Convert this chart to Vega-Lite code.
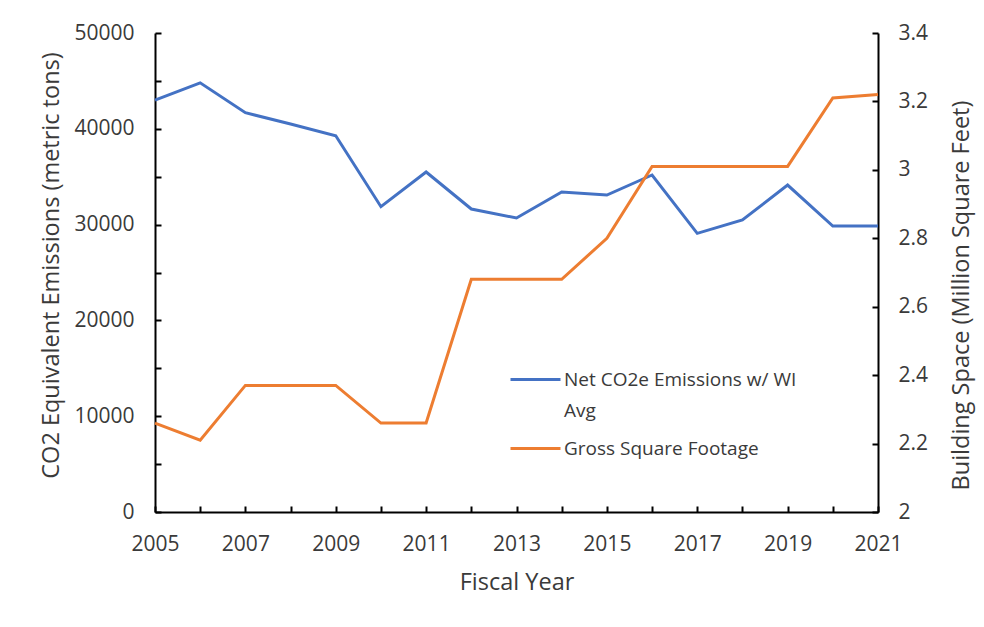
{
  "$schema": "https://vega.github.io/schema/vega-lite/v6.json",
  "width": 723,
  "height": 479,
  "autosize": "none",
  "padding": {"left": 155, "top": 33, "right": 106, "bottom": 115},
  "background": "white",
  "config": {
    "font": "Open Sans",
    "view": {"stroke": null},
    "axis": {
      "grid": false,
      "domainColor": "#000000",
      "domainWidth": 2,
      "tickColor": "#000000",
      "tickWidth": 2,
      "tickSize": -6,
      "labelFont": "Open Sans",
      "labelFontSize": 21,
      "labelColor": "#3a3a3a",
      "titleFont": "Open Sans",
      "titleFontSize": 23.5,
      "titleFontWeight": "normal",
      "titleColor": "#3a3a3a"
    },
    "legend": {
      "labelFont": "Open Sans",
      "labelFontSize": 19,
      "labelColor": "#3a3a3a",
      "labelLimit": 0
    },
    "style": {"guide-label": {"lineHeight": 31}}
  },
  "data": {
    "values": [
      {"year": 2005, "series": "Net CO2e Emissions w/ WI Avg", "value": 43000},
      {"year": 2006, "series": "Net CO2e Emissions w/ WI Avg", "value": 44800},
      {"year": 2007, "series": "Net CO2e Emissions w/ WI Avg", "value": 41680},
      {"year": 2008, "series": "Net CO2e Emissions w/ WI Avg", "value": 40500},
      {"year": 2009, "series": "Net CO2e Emissions w/ WI Avg", "value": 39280},
      {"year": 2010, "series": "Net CO2e Emissions w/ WI Avg", "value": 31870},
      {"year": 2011, "series": "Net CO2e Emissions w/ WI Avg", "value": 35490},
      {"year": 2012, "series": "Net CO2e Emissions w/ WI Avg", "value": 31630},
      {"year": 2013, "series": "Net CO2e Emissions w/ WI Avg", "value": 30690},
      {"year": 2014, "series": "Net CO2e Emissions w/ WI Avg", "value": 33400},
      {"year": 2015, "series": "Net CO2e Emissions w/ WI Avg", "value": 33090},
      {"year": 2016, "series": "Net CO2e Emissions w/ WI Avg", "value": 35180},
      {"year": 2017, "series": "Net CO2e Emissions w/ WI Avg", "value": 29090},
      {"year": 2018, "series": "Net CO2e Emissions w/ WI Avg", "value": 30480},
      {"year": 2019, "series": "Net CO2e Emissions w/ WI Avg", "value": 34130},
      {"year": 2020, "series": "Net CO2e Emissions w/ WI Avg", "value": 29850},
      {"year": 2021, "series": "Net CO2e Emissions w/ WI Avg", "value": 29850},
      {"year": 2005, "series": "Gross Square Footage", "value": 2.26},
      {"year": 2006, "series": "Gross Square Footage", "value": 2.21},
      {"year": 2007, "series": "Gross Square Footage", "value": 2.37},
      {"year": 2008, "series": "Gross Square Footage", "value": 2.37},
      {"year": 2009, "series": "Gross Square Footage", "value": 2.37},
      {"year": 2010, "series": "Gross Square Footage", "value": 2.26},
      {"year": 2011, "series": "Gross Square Footage", "value": 2.26},
      {"year": 2012, "series": "Gross Square Footage", "value": 2.68},
      {"year": 2013, "series": "Gross Square Footage", "value": 2.68},
      {"year": 2014, "series": "Gross Square Footage", "value": 2.68},
      {"year": 2015, "series": "Gross Square Footage", "value": 2.80},
      {"year": 2016, "series": "Gross Square Footage", "value": 3.01},
      {"year": 2017, "series": "Gross Square Footage", "value": 3.01},
      {"year": 2018, "series": "Gross Square Footage", "value": 3.01},
      {"year": 2019, "series": "Gross Square Footage", "value": 3.01},
      {"year": 2020, "series": "Gross Square Footage", "value": 3.21},
      {"year": 2021, "series": "Gross Square Footage", "value": 3.22}
    ]
  },
  "encoding": {
    "x": {
      "field": "year",
      "type": "quantitative",
      "scale": {"domain": [2005, 2021], "nice": false, "zero": false},
      "axis": {
        "title": "Fiscal Year",
        "values": [2005, 2006, 2007, 2008, 2009, 2010, 2011, 2012, 2013, 2014, 2015, 2016, 2017, 2018, 2019, 2020, 2021],
        "format": "d",
        "labelExpr": "(datum.value - 2005) % 2 == 0 ? datum.label : ''",
        "labelOverlap": false,
        "labelFlush": false,
        "labelPadding": 27,
        "titlePadding": 16
      }
    },
    "color": {
      "field": "series",
      "type": "nominal",
      "scale": {
        "domain": ["Net CO2e Emissions w/ WI Avg", "Gross Square Footage"],
        "range": ["#4472C4", "#ED7D31"]
      },
      "legend": {
        "title": null,
        "orient": "none",
        "legendX": 354,
        "legendY": 320,
        "padding": 0,
        "symbolType": "stroke",
        "symbolSize": 2500,
        "symbolStrokeWidth": 3,
        "labelOffset": 2,
        "rowPadding": 1,
        "labelExpr": "datum.label == 'Net CO2e Emissions w/ WI Avg' ? ['Net CO2e Emissions w/ WI', 'Avg'] : datum.label"
      }
    }
  },
  "layer": [
    {
      "transform": [{"filter": "datum.series == 'Net CO2e Emissions w/ WI Avg'"}],
      "mark": {"type": "line", "strokeWidth": 3},
      "encoding": {
        "y": {
          "field": "value",
          "type": "quantitative",
          "scale": {"domain": [0, 50000], "nice": false},
          "axis": {
            "orient": "left",
            "title": "CO2 Equivalent  Emissions (metric tons)",
            "values": [0, 5000, 10000, 15000, 20000, 25000, 30000, 35000, 40000, 45000, 50000],
            "format": "d",
            "labelExpr": "datum.value % 10000 == 0 ? datum.label : ''",
            "labelOverlap": false,
            "labelFlush": false,
            "labelPadding": 27,
            "titlePadding": 10,
            "titleY": 232
          }
        }
      }
    },
    {
      "transform": [{"filter": "datum.series == 'Gross Square Footage'"}],
      "mark": {"type": "line", "strokeWidth": 3},
      "encoding": {
        "y": {
          "field": "value",
          "type": "quantitative",
          "scale": {"domain": [2, 3.4], "nice": false, "zero": false},
          "axis": {
            "orient": "right",
            "title": "Building Space (Million Square Feet)",
            "values": [2, 2.2, 2.4, 2.6, 2.8, 3, 3.2, 3.4],
            "format": "~g",
            "labelOverlap": false,
            "labelFlush": false,
            "labelPadding": 26,
            "titleAngle": -90,
            "titleBaseline": "top",
            "titlePadding": 22,
            "titleY": 262
          }
        }
      }
    }
  ],
  "resolve": {"scale": {"y": "independent"}}
}
